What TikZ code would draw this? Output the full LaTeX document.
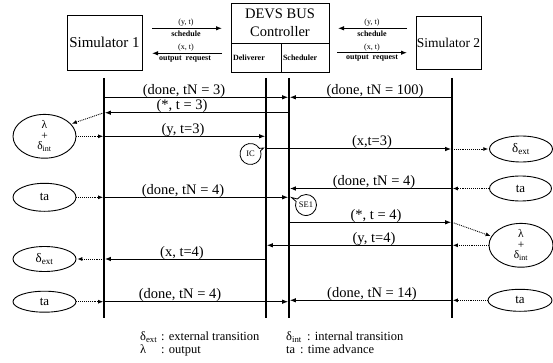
\documentclass[tikz,border=0pt]{standalone}
\usepackage{fontspec}
\setmainfont{Liberation Serif}
\usetikzlibrary{arrows.meta,shapes.geometric,shapes.callouts,calc}
\begin{document}
\begin{tikzpicture}[x=1pt,y=-1pt,
  box/.style={draw, line width=0.9pt, inner sep=0pt},
  life/.style={line width=1.9pt},
  msg/.style={line width=1pt, shorten >=0.8pt, -{Latex[length=6pt,width=4.5pt]}},
  dotarr/.style={line width=0.9pt, densely dotted, shorten >=0.8pt, -{Latex[length=5pt,width=4pt]}},
  topar/.style={line width=1pt, -{Latex[length=6pt,width=4.5pt]}},
  lbl/.style={font=\fontsize{14.5}{16}\selectfont, inner sep=0pt, anchor=base},
  tiny/.style={font=\fontsize{8}{9}\selectfont, inner sep=0pt},
  tinyb/.style={font=\fontsize{8}{9}\selectfont\bfseries, inner sep=0pt},
  st/.style={draw, ellipse, line width=0.9pt, minimum width=63pt, inner sep=0pt, align=center, font=\fontsize{13}{10}\selectfont},
  stk/.style={st, font=\fontsize{11.5}{10.5}\selectfont},
  tag/.style={draw, ellipse callout, line width=0.8pt, minimum width=21pt, minimum height=21pt, inner sep=0pt, font=\fontsize{8.5}{8.5}\selectfont},
  leg/.style={font=\fontsize{12.5}{13}\selectfont, inner sep=0pt, anchor=north west, align=left},
]
\useasboundingbox (0,0) rectangle (553,363);

% boxes
\node[box, minimum width=75pt, minimum height=55pt, font=\fontsize{15}{18}\selectfont] (sim1) at (104.5,42.5) {Simulator 1};
\node[box, minimum width=65pt, minimum height=53pt, font=\fontsize{13.5}{16}\selectfont] (sim2) at (448.5,42.5) {Simulator 2};
\node[box, minimum width=98pt, minimum height=40pt, align=center, font=\fontsize{14.5}{18}\selectfont] (bus) at (280,23) {DEVS BUS\\Controller};
\node[box, minimum width=50pt, minimum height=29pt, text width=46pt, align=left, inner xsep=2pt, tinyb] (deliv) at (256,57.5) {Deliverer};
\node[box, minimum width=48pt, minimum height=29pt, text width=44pt, align=left, inner xsep=2pt, tinyb] (sched) at (305,57.5) {Scheduler};

% top arrows
\coordinate (a1s) at (152,28.3); \coordinate (a1e) at (222,28.3);
\coordinate (a2s) at (222,53.3); \coordinate (a2e) at (152,53.3);
\coordinate (a3s) at (407,28.3); \coordinate (a3e) at (338,28.3);
\coordinate (a4s) at (337,52.7); \coordinate (a4e) at (407,52.7);
\draw[topar] (a1s) -- (a1e);
\draw[topar] (a2s) -- (a2e);
\draw[topar] (a3s) -- (a3e);
\draw[topar] (a4s) -- (a4e);
\node[tiny] (t1) at (186,22.5) {(y, t)};
\node[tinyb] (t2) at (186,33.5) {schedule};
\node[tiny] (t3) at (186,48) {(x, t)};
\node[tinyb] (t4) at (185,59) {output\ \ request};
\node[tiny] (t5) at (372,22.5) {(y, t)};
\node[tinyb] (t6) at (372,33.5) {schedule};
\node[tiny] (t7) at (372,47.5) {(x, t)};
\node[tinyb] (t8) at (372,58) {output\ \ request};

% lifelines
\coordinate (L1) at (104,0);
\coordinate (L2) at (266,0);
\coordinate (L3) at (289,0);
\coordinate (L4) at (452,0);
\draw[life] (L1 |- 0,78) -- (L1 |- 0,318);
\draw[life] (L2 |- 0,78) -- (L2 |- 0,318);
\draw[life] (L3 |- 0,78) -- (L3 |- 0,318);
\draw[life] (L4 |- 0,78) -- (L4 |- 0,318);

% messages
\draw[msg] (L1 |- 0,97.3) -- (L3 |- 0,97.3);
\node[lbl] (m1) at (184,94.3) {(done, tN = 3)};
\draw[msg] (L4 |- 0,97.3) -- (L3 |- 0,97.3);
\node[lbl] (m2) at (375,94.3) {(done, tN = 100)};
\draw[msg] (L3 |- 0,112.7) -- (L1 |- 0,112.7);
\node[lbl] (m3) at (182,109.7) {(*, t = 3)};
\draw[msg] (L1 |- 0,136.3) -- (L2 |- 0,136.3);
\node[lbl] (m4) at (183,133.3) {(y, t=3)};
\draw[msg] (L2 |- 0,149) -- (L4 |- 0,149);
\node[lbl] (m5) at (372,146) {(x,t=3)};
\draw[msg] (L4 |- 0,188.5) -- (L3 |- 0,188.5);
\node[lbl] (m6) at (374,185.5) {(done, tN = 4)};
\draw[msg] (L1 |- 0,197.3) -- (L3 |- 0,197.3);
\node[lbl] (m7) at (183,194.3) {(done, tN = 4)};
\draw[msg] (L3 |- 0,222.3) -- (L4 |- 0,222.3);
\node[lbl] (m8) at (376,219.3) {(*, t = 4)};
\draw[msg] (L4 |- 0,245.3) -- (L2 |- 0,245.3);
\node[lbl] (m9) at (374,242.3) {(y, t=4)};
\draw[msg] (L2 |- 0,259) -- (L1 |- 0,259);
\node[lbl] (m10) at (182,256) {(x, t=4)};
\draw[msg] (L1 |- 0,301.7) -- (L3 |- 0,301.7);
\node[lbl] (m11) at (180,298.7) {(done, tN = 4)};
\draw[msg] (L4 |- 0,300.3) -- (L3 |- 0,300.3);
\node[lbl] (m12) at (372,297.3) {(done, tN = 14)};

% callouts
\node[tag, callout absolute pointer={(263.5,148)}] (ic) at (250.5,154) {IC};
\node[tag, callout absolute pointer={(291.5,197.5)}] (se1) at (306,205) {SE1};

% left state ellipses
\node[stk, minimum height=36pt] (e1) at (44.5,136.3) {λ\\+\\δ\textsubscript{int}};
\node[st, minimum height=28pt] (e2) at (44.5,197.3) {ta};
\node[st, minimum height=25pt] (e3) at (44.5,259) {δ\textsubscript{ext}};
\node[st, minimum height=21pt] (e4) at (44.5,301.7) {ta};
% right state ellipses
\node[st, minimum height=26pt] (r1) at (521,149) {δ\textsubscript{ext}};
\node[st, minimum height=25pt, minimum width=62pt] (r2) at (520.5,188.5) {ta};
\node[stk, minimum height=36pt, minimum width=64pt] (r3) at (521,245.3) {λ\\+\\δ\textsubscript{int}};
\node[st, minimum height=22pt, minimum width=64pt] (r4) at (520,300.3) {ta};

% dotted links
\draw[dotarr] (L1 |- 0,112.7) -- (e1.25);
\draw[dotarr] (e1.east) -- (L1 |- e1.east);
\draw[dotarr] (e2.east) -- (L1 |- e2.east);
\draw[dotarr] (L1 |- e3.east) -- (e3.east);
\draw[dotarr] (e4.east) -- (L1 |- e4.east);
\draw[dotarr] (L4 |- r1.west) -- (r1.west);
\draw[dotarr] (r2.west) -- (L4 |- r2.west);
\draw[dotarr] (L4 |- 0,222.3) -- (r3.163);
\draw[dotarr] (r3.west) -- (L4 |- r3.west);
\draw[dotarr] (r4.west) -- (L4 |- r4.west);

% legend
\node[leg] (gl) at (140,331.5) {\makebox[21pt][l]{δ\textsubscript{ext}}: external transition\\\makebox[21pt][l]{λ}: output};
\node[leg] (gr) at (286,331.5) {\makebox[21pt][l]{δ\textsubscript{int}}: internal transition\\\makebox[14pt][l]{ta}: time advance};
\end{tikzpicture}
\end{document}
